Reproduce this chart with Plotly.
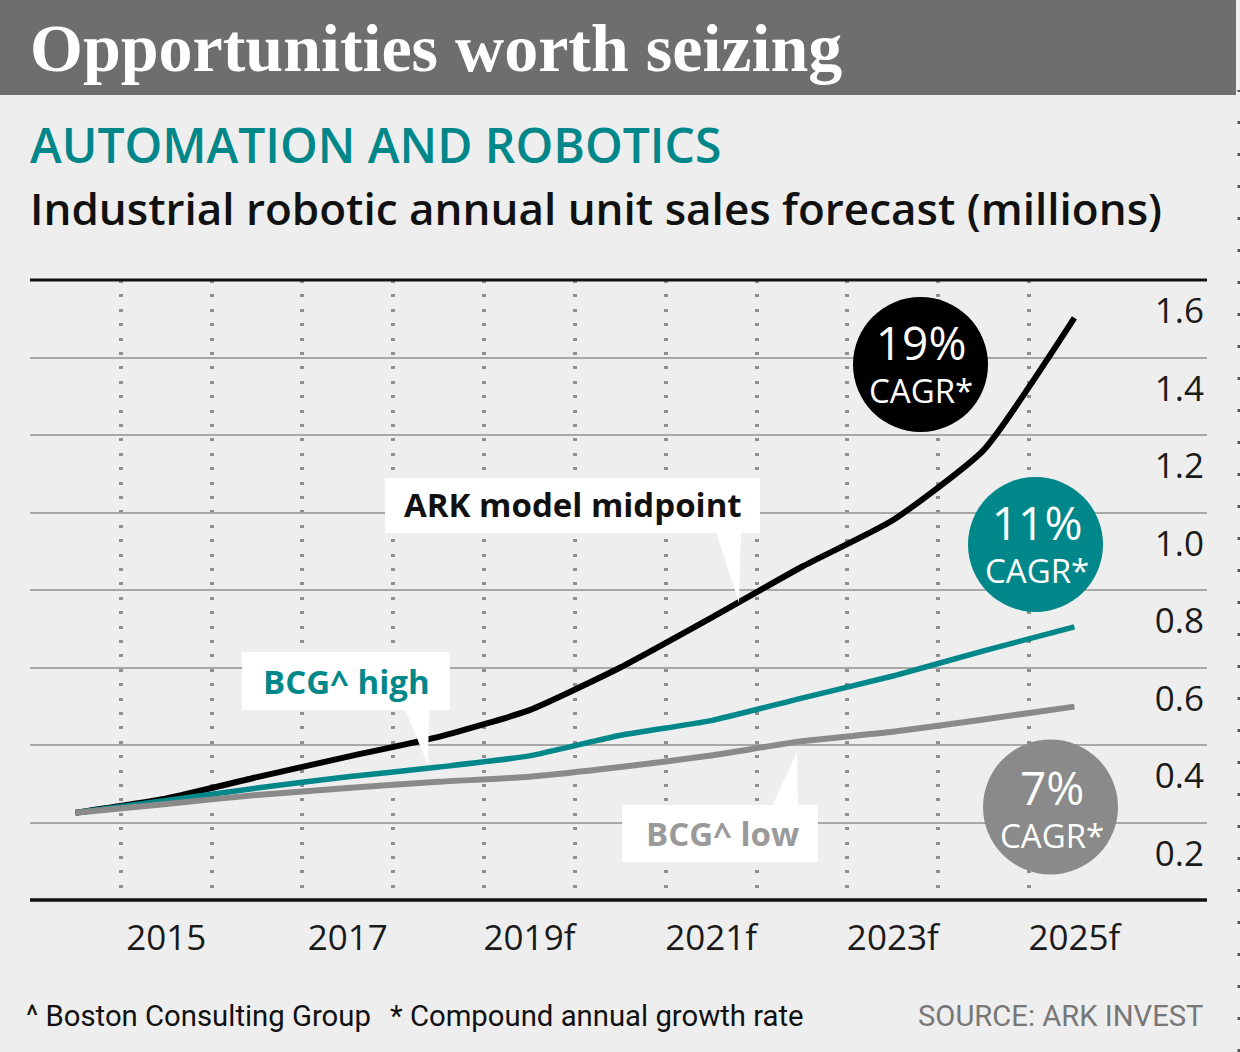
import plotly.graph_objects as go

# values (millions of units)
years = list(range(2014, 2026))
ark_midpoint = [0.225, 0.262, 0.317, 0.370, 0.421, 0.490, 0.600, 0.728, 0.860, 0.980, 1.161, 1.502]
bcg_high = [0.225, 0.257, 0.289, 0.318, 0.343, 0.372, 0.425, 0.463, 0.521, 0.578, 0.643, 0.705]
bcg_low = [0.225, 0.248, 0.271, 0.289, 0.305, 0.318, 0.343, 0.373, 0.410, 0.434, 0.466, 0.499]

tick_years = [2015, 2017, 2019, 2021, 2023, 2025]
tick_text = ["2015", "2017", "2019f", "2021f", "2023f", "2025f"]
y_ticks = [0.2, 0.4, 0.6, 0.8, 1.0, 1.2, 1.4, 1.6]
y_text = ["0.2", "0.4", "0.6", "0.8", "1.0", "1.2", "1.4", "1.6"]
half_years = [y + 0.5 for y in range(2013, 2025)]

BLACK = "#000000"
TEAL = "#00878a"
GREY = "#8a8a8a"
BG = "#eeeeee"
FONT = "Open Sans"

W, H = 1240, 1052
L, R, T, B = 30, 33, 280, 152
PW, PH = W - L - R, H - T - B
XR = [2013.5, 2026.46]
YR = [0, 1.6]


# helpers to turn pixel spots into data / paper coords for the callouts
def dx(px):
    return XR[0] + (px - L) / PW * (XR[1] - XR[0])


def dy(py):
    return YR[1] - (py - T) / PH * (YR[1] - YR[0])


def ppx(px):
    return (px - L) / PW


def ppy(py):
    return (T + PH - py) / PH


fig = go.Figure()
fig.add_scatter(x=years, y=ark_midpoint, mode="lines", line=dict(color=BLACK, width=6, shape="spline", smoothing=0.5), name="ARK")
fig.add_scatter(x=years, y=bcg_high, mode="lines", line=dict(color=TEAL, width=5.5, shape="spline", smoothing=0.5), name="BCG high")
fig.add_scatter(x=years, y=bcg_low, mode="lines", line=dict(color=GREY, width=6, shape="spline", smoothing=0.5), name="BCG low")

shapes = []
# title bar
shapes.append(dict(type="rect", xref="paper", yref="paper", x0=ppx(0), x1=ppx(1236), y0=ppy(95), y1=ppy(0),
                   fillcolor="#6e6e6e", line=dict(width=0), layer="below"))
# dotted frame edge on the right
shapes.append(dict(type="line", xref="paper", yref="paper", x0=ppx(1239), x1=ppx(1239), y0=ppy(H), y1=ppy(90),
                   line=dict(color="#555555", width=3, dash="3px,29px"), layer="below"))
# top and bottom rules
shapes.append(dict(type="line", xref="paper", yref="paper", x0=0, x1=1, y0=1, y1=1,
                   line=dict(color="#111111", width=3)))
shapes.append(dict(type="line", xref="paper", yref="paper", x0=0, x1=1, y0=0, y1=0,
                   line=dict(color="#111111", width=3.5)))


def box(x0, y0, x1, y1):
    shapes.append(dict(type="rect", xref="x", yref="y", x0=dx(x0), x1=dx(x1), y0=dy(y1), y1=dy(y0),
                       fillcolor="white", line=dict(width=0), layer="above"))


def pointer(pts):
    path = "M " + " L ".join("%f,%f" % (dx(a), dy(b)) for a, b in pts) + " Z"
    shapes.append(dict(type="path", xref="x", yref="y", path=path,
                       fillcolor="white", line=dict(width=0), layer="above"))


box(385, 478, 760, 533)
pointer([(716, 532), (741, 532), (739, 603)])
box(242, 652, 450, 710)
pointer([(405, 709), (429, 709), (428, 765)])
box(622, 805, 818, 862)
pointer([(772, 806), (798, 806), (797, 752)])


def bubble(cx, cy, r, color):
    shapes.append(dict(type="circle", xref="x", yref="y", xsizemode="pixel", ysizemode="pixel",
                       xanchor=dx(cx), yanchor=dy(cy), x0=-r, x1=r, y0=-r, y1=r,
                       fillcolor=color, line=dict(width=0), layer="above"))


bubble(920.5, 364.5, 67.5, BLACK)
bubble(1035.5, 544.5, 67.5, TEAL)
bubble(1050.5, 807, 67.5, GREY)

ann = []


def text(px, py, s, size, color, xanchor="left", family=FONT, data=False, weight=None):
    if data:
        xv, yv, xr, yr = dx(px), dy(py), "x", "y"
    else:
        xv, yv, xr, yr = ppx(px), ppy(py), "paper", "paper"
    f = dict(size=size, color=color, family=family)
    if weight:
        f["weight"] = weight
    ann.append(dict(x=xv, y=yv, xref=xr, yref=yr, text=s, showarrow=False,
                    xanchor=xanchor, yanchor="middle", font=f))


text(28, 48, "<b>Opportunities worth seizing</b>", 68, "white", family="Liberation Serif")
text(28, 145, "AUTOMATION AND ROBOTICS", 48, TEAL, weight=600)
text(28, 208, "Industrial robotic annual unit sales forecast (millions)", 44, "#111111", weight=600)

text(573, 504, "<b>ARK model midpoint</b>", 33, "#111111", "center", data=True)
text(346, 681, "<b>BCG^ high</b>", 33, TEAL, "center", data=True)
text(722, 833, "<b>BCG^ low</b>", 33, "#9a9a9a", "center", data=True)

cagr = "<span style='font-size:46px'>%s</span><br>CAGR*"
text(921, 362, cagr % "19%", 33, "white", "center", data=True)
text(1037, 542, cagr % "11%", 33, "white", "center", data=True)
text(1052, 807, cagr % "7%", 33, "white", "center", data=True)

FOOT = "Roboto"
text(24, 1016, "^ Boston Consulting Group", 29.3, "#111111", family=FOOT)
text(388, 1016, "* Compound annual growth rate", 29.3, "#111111", family=FOOT)
text(1205, 1016, "SOURCE: ARK INVEST", 29.2, "#777777", "right", family=FOOT)

fig.update_layout(
    width=W, height=H,
    margin=dict(l=L, r=R, t=T, b=B, pad=0),
    paper_bgcolor=BG, plot_bgcolor=BG,
    showlegend=False,
    font=dict(family=FONT, color="#111111"),
    shapes=shapes,
    annotations=ann,
    xaxis=dict(range=XR, tickmode="array", tickvals=tick_years, ticktext=tick_text,
               showgrid=False, zeroline=False, showline=False, ticks="",
               tickfont=dict(size=35, color="#1a1a1a"), ticklabelstandoff=14,
               minor=dict(tickmode="array", tickvals=half_years, showgrid=True,
                          gridcolor="#8f8f8f", gridwidth=3.5, griddash="3px,11.4px", ticks="")),
    yaxis=dict(range=YR, tickmode="array", tickvals=y_ticks, ticktext=y_text, side="right",
               ticklabelposition="inside", ticklabelshift=31,
               showgrid=True, gridcolor="#a8a8a8", gridwidth=2, zeroline=False, showline=False,
               ticks="", tickfont=dict(size=35, color="#1a1a1a")),
)

fig.write_html("out.html", config={"displayModeBar": False},
               post_script="document.body.style.margin='0px';")
